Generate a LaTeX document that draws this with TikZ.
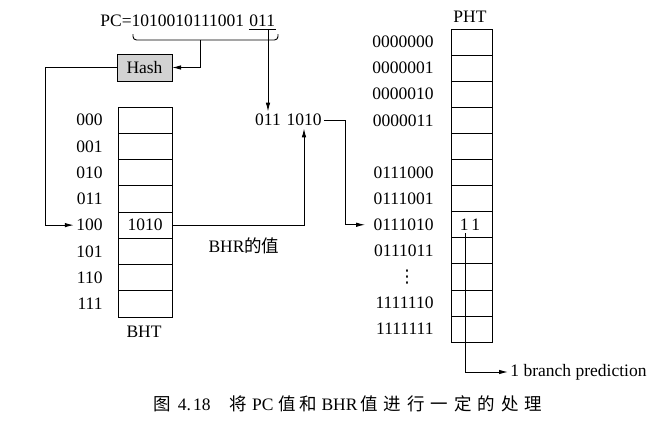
\documentclass[tikz,border=0pt]{standalone}
\usepackage{fontspec}
\setmainfont{Liberation Serif}
\newfontfamily\cjk{Noto Sans CJK SC}
\newfontfamily\sym{DejaVu Sans}
\usetikzlibrary{arrows.meta}
\begin{document}
\begin{tikzpicture}[x=1pt,y=-1pt,
  line width=0.95pt,
  txt/.style={font=\fontsize{17.5}{20}\selectfont, inner sep=2pt},
  tight/.style={font=\fontsize{17.5}{20}\selectfont, inner sep=0pt},
  cell/.style={draw, minimum width=54pt, minimum height=26.25pt, inner sep=0pt, outer sep=0pt, font=\fontsize{17.5}{20}\selectfont},
  pcell/.style={draw, minimum width=41pt, minimum height=26.1pt, inner sep=0pt, outer sep=0pt, font=\fontsize{17.5}{20}\selectfont},
  hashbox/.style={draw, fill=gray!35, minimum width=55pt, minimum height=27pt, inner sep=0pt, outer sep=0pt, font=\fontsize{17.5}{20}\selectfont},
  arr/.style={-{Latex[length=9pt,width=4.5pt]}}
]
\useasboundingbox (0,0) rectangle (653,431);

% PC value
\node[tight, anchor=base west] (pc) at (100,27) {PC=1010010111001};
\node[tight, anchor=base west] (low) at ([xshift=4.3pt]pc.base east) {011};
\draw ([yshift=-2pt]low.base west) -- ([yshift=-2pt]low.base east);
\coordinate (lowtap) at (268,29);

% brace under the address bits
\coordinate (bl) at (133,34);
\coordinate (br) at (278,34);
\coordinate (bmid) at (200,40);
\draw[rounded corners=3.5pt] (bl) |- (bmid) -| (br);

% Hash
\node[hashbox] (hash) at (144.5,67.5) {Hash};
\draw[arr] (bmid) |- (hash.east);

% BHT
\foreach \i/\t in {0/,1/,2/,3/,4/1010,5/,6/,7/} {
  \node[cell] (bht\i) at (145,{107+26.25*(\i+0.5)}) {\t};
}
\foreach \i/\t in {0/000,1/001,2/010,3/011,4/100,5/101,6/110,7/111} {
  \node[txt, anchor=east] (blab\i) at (105,{107+26.25*(\i+0.5)}) {\t};
}
\node[txt] (bhtname) at (144,332) {BHT};

% hash to BHT row
\coordinate (hl) at (45,67.5);
\draw[arr] (hash.west) -- (hl) |- (blab4.west);

% concatenated index
\node[txt] (idxa) at (268,120) {011};
\node[txt] (idxb) at (304,120) {1010};
\draw[arr] (lowtap) -- (lowtap |- idxa.north);
\draw[arr] (bht4.east) -| (idxb.south);
\node[txt] (bhrv) at (244,246) {BHR{\cjk 的值}};

% PHT
\foreach \i in {0,...,11} {
  \node[pcell] (pht\i) at (471.5,{29+26.1*(\i+0.5)}) {};
}
\foreach \i/\t in {0/0000000,1/0000001,2/0000010,3/0000011,5/0111000,6/0111001,7/0111010,8/0111011,10/1111110,11/1111111} {
  \node[txt, anchor=east] (plab\i) at (436,{29+26.1*(\i+0.5)}) {\t};
}
\node[txt, font=\sym\fontsize{17.5}{20}\selectfont] (pdots) at (407,277) {⋮};
\node[txt] (phtname) at (470,17) {PHT};
\node[txt] (bits) at (470,224.75) {1\,1};

\coordinate (turn) at (345,120);
\draw[arr, shorten >=6pt] (idxb.east) -- (turn) |- (plab7.west);

% prediction output
\node[txt, anchor=west] (bp) at (508,372) {1 branch prediction};
\coordinate (pbit) at (465,233);
\draw[arr] (pbit) |- (bp.west);

% caption
\node[tight, anchor=west] (cap) at (153,404) {{\cjk 图}\hspace{7pt}4.\hspace{2pt}18\hspace{19pt}{\cjk 将}\hspace{5pt}PC\hspace{5pt}{\cjk 值\hspace{3pt}和}\hspace{5pt}BHR\hspace{3pt}{\cjk 值\hspace{6pt}进\hspace{6pt}行\hspace{6pt}一\hspace{6pt}定\hspace{6pt}的\hspace{6pt}处\hspace{6pt}理}};
\end{tikzpicture}
\end{document}
